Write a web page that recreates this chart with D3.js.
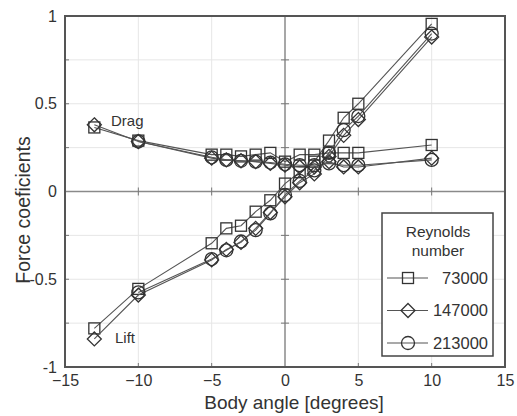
<!DOCTYPE html>
<html>
<head>
<meta charset="utf-8">
<script src="https://cdn.jsdelivr.net/npm/d3@7"></script>
<style>
  body { margin: 0; background: #fff; }
  svg { font-family: "Liberation Sans", Arial, sans-serif; }
</style>
</head>
<body>
<svg></svg>
<script>
//Data
const angles = [-13, -10, -5, -4, -3, -2, -1, 0, 1, 2, 3, 4, 5, 10];
const reynolds = ["73000", "147000", "213000"];
const markers = ["square", "diamond", "circle"];

//Lift coefficients
const lift73 = [-0.78, -0.555, -0.295, -0.21, -0.195, -0.115, -0.05, 0.045, 0.11, 0.17, 0.29, 0.42, 0.50, 0.955];
const lift147 = [-0.84, -0.59, -0.39, -0.33, -0.29, -0.21, -0.12, -0.03, 0.05, 0.10, 0.20, 0.32, 0.41, 0.88];
const lift213 = [null, -0.575, -0.385, -0.335, -0.285, -0.22, -0.125, -0.02, 0.06, 0.12, 0.22, 0.35, 0.43, 0.90];

//Drag coefficients
const drag73 = [0.365, 0.29, 0.21, 0.21, 0.20, 0.21, 0.22, 0.17, 0.21, 0.21, 0.22, 0.22, 0.22, 0.265];
const drag147 = [0.38, 0.285, 0.19, 0.18, 0.175, 0.17, 0.16, 0.15, 0.14, 0.14, 0.17, 0.14, 0.14, 0.19];
const drag213 = [null, 0.285, 0.195, 0.18, 0.175, 0.17, 0.165, 0.155, 0.15, 0.15, 0.16, 0.15, 0.15, 0.18];

const xTicks = [-15, -10, -5, 0, 5, 10, 15];
const yTicks = [-1, -0.5, 0, 0.5, 1];
const yGrid = [-0.75, -0.5, -0.25, 0.25, 0.5, 0.75];

const w = 517;
const h = 416;
const pLeft = 65, pRight = 505, pTop = 16, pBottom = 367;

const svg = d3.select("svg").attr("width", w).attr("height", h);

const xScale = d3.scaleLinear().domain([-15, 15]).range([pLeft, pRight]);
const yScale = d3.scaleLinear().domain([-1, 1]).range([pBottom, pTop]);

//Grid
svg.append("g").selectAll("line")
   .data([-10, -5, 5, 10])
   .enter().append("line")
   .attr("x1", d => xScale(d)).attr("x2", d => xScale(d))
   .attr("y1", pTop).attr("y2", pBottom)
   .attr("stroke", "#e6e6e6").attr("stroke-width", 1);

svg.append("g").selectAll("line")
   .data(yGrid)
   .enter().append("line")
   .attr("x1", pLeft).attr("x2", pRight)
   .attr("y1", d => yScale(d)).attr("y2", d => yScale(d))
   .attr("stroke", "#e6e6e6").attr("stroke-width", 1);

//Center axes
svg.append("line")
   .attr("x1", xScale(0)).attr("x2", xScale(0)).attr("y1", pTop).attr("y2", pBottom)
   .attr("stroke", "#8a8a8a").attr("stroke-width", 1.5);
svg.append("line")
   .attr("x1", pLeft).attr("x2", pRight).attr("y1", yScale(0)).attr("y2", yScale(0))
   .attr("stroke", "#8a8a8a").attr("stroke-width", 1.5);

//Ticks on center axes and box
const tickG = svg.append("g").attr("stroke", "#777").attr("stroke-width", 1);
yGrid.forEach(v => {
  tickG.append("line").attr("x1", xScale(0) - 4).attr("x2", xScale(0) + 4)
       .attr("y1", yScale(v)).attr("y2", yScale(v));
  tickG.append("line").attr("x1", pLeft).attr("x2", pLeft + 4)
       .attr("y1", yScale(v)).attr("y2", yScale(v));
});
[-10, -5, 5, 10].forEach(v => {
  tickG.append("line").attr("x1", xScale(v)).attr("x2", xScale(v))
       .attr("y1", yScale(0) - 4).attr("y2", yScale(0) + 4);
  tickG.append("line").attr("x1", xScale(v)).attr("x2", xScale(v))
       .attr("y1", pBottom).attr("y2", pBottom - 4);
});

//Axis tick labels
const xAxis = d3.axisBottom(xScale).tickValues(xTicks).tickSize(0).tickPadding(8).tickFormat(d3.format("d"));
const xg = svg.append("g").attr("transform", `translate(0, ${pBottom})`).call(xAxis);
xg.select(".domain").remove();
xg.selectAll("text").attr("font-size", 16).attr("fill", "#333").attr("font-family", "Liberation Sans, Arial, sans-serif");

const yAxis = d3.axisLeft(yScale).tickValues(yTicks).tickSize(0).tickPadding(8).tickFormat(d => d === 0 ? "0" : String(d));
const yg = svg.append("g").attr("transform", `translate(${pLeft}, 0)`).call(yAxis);
yg.select(".domain").remove();
yg.selectAll("text").attr("font-size", 16).attr("fill", "#333").attr("font-family", "Liberation Sans, Arial, sans-serif");

//Box
svg.append("rect")
   .attr("x", pLeft).attr("y", pTop).attr("width", pRight - pLeft).attr("height", pBottom - pTop)
   .attr("fill", "none").attr("stroke", "#555").attr("stroke-width", 2);

//Series
const series = [
  { name: reynolds[0], marker: markers[0], lift: lift73, drag: drag73 },
  { name: reynolds[1], marker: markers[1], lift: lift147, drag: drag147 },
  { name: reynolds[2], marker: markers[2], lift: lift213, drag: drag213 }
];

function drawMarker(g, type, x, y) {
  if (type === "square") {
    g.append("rect").attr("x", x - 5.5).attr("y", y - 5.5).attr("width", 11).attr("height", 11);
  } else if (type === "diamond") {
    g.append("path").attr("d", `M${x},${y - 7}L${x + 7},${y}L${x},${y + 7}L${x - 7},${y}Z`);
  } else {
    g.append("circle").attr("cx", x).attr("cy", y).attr("r", 6.5);
  }
}

const line = d3.line()
               .x(d => xScale(d.a))
               .y(d => yScale(d.v));

const plotG = svg.append("g");
series.forEach(s => {
  ["lift", "drag"].forEach(key => {
    const pts = angles.map((a, i) => ({ a: a, v: s[key][i] })).filter(d => d.v !== null);
    plotG.append("path").datum(pts)
         .attr("d", line)
         .attr("fill", "none").attr("stroke", "#555").attr("stroke-width", 1.1);
    const mg = plotG.append("g").attr("fill", "none").attr("stroke", "#333").attr("stroke-width", 1.3);
    pts.forEach(d => drawMarker(mg, s.marker, xScale(d.a), yScale(d.v)));
  });
});

//Curve labels
svg.append("text").attr("x", 111).attr("y", 126).attr("font-size", 15).attr("fill", "#333").text("Drag");
svg.append("text").attr("x", 115).attr("y", 343).attr("font-size", 15).attr("fill", "#333").text("Lift");

//Legend
const legend = svg.append("g").attr("id", "legend");
legend.append("rect")
      .attr("x", 382).attr("y", 213).attr("width", 111).attr("height", 143)
      .attr("fill", "#fff").attr("stroke", "#444").attr("stroke-width", 1.5);
legend.append("text").attr("x", 438).attr("y", 237).attr("text-anchor", "middle")
      .attr("font-size", 15.5).attr("fill", "#333").text("Reynolds");
legend.append("text").attr("x", 438).attr("y", 256).attr("text-anchor", "middle")
      .attr("font-size", 15.5).attr("fill", "#333").text("number");

series.forEach((s, i) => {
  const ly = 278 + i * 32.5;
  legend.append("line").attr("x1", 387).attr("x2", 428).attr("y1", ly).attr("y2", ly)
        .attr("stroke", "#555").attr("stroke-width", 1.1);
  const mg = legend.append("g").attr("fill", "none").attr("stroke", "#333").attr("stroke-width", 1.3);
  drawMarker(mg, s.marker, 408, ly);
  legend.append("text").attr("x", 488).attr("y", ly).attr("dy", "0.36em").attr("text-anchor", "end")
        .attr("font-size", 16.5).attr("fill", "#333").text(s.name);
});

//Axis titles
svg.append("text").attr("x", 294).attr("y", 409).attr("text-anchor", "middle")
   .attr("font-size", 19).attr("fill", "#333").text("Body angle [degrees]");
svg.append("text").attr("transform", "translate(30, 210) rotate(-90)").attr("text-anchor", "middle")
   .attr("font-size", 19.5).attr("fill", "#333").text("Force coeficients");
</script>
</body>
</html>
